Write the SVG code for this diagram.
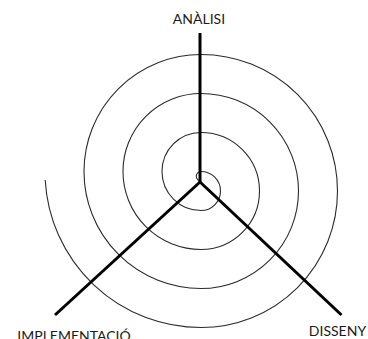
<svg xmlns="http://www.w3.org/2000/svg" width="368" height="339" viewBox="0 0 368 339">
<style>
.lbl{font-family:Lato,"Open Sans","Liberation Sans",sans-serif;font-size:14px;fill:#1a1a1a}
.spiral{fill:none;stroke:#2a2a2a;stroke-width:1.1}
.axis{stroke:#000;stroke-width:3;stroke-linecap:butt;fill:none}
</style>
<rect width="368" height="339" fill="#fff"/>
<g id="spiral">
<path class="spiral" d="M201,181 A4.75,4.75 0 0 1 201,171.5 A19.5,19.5 0 0 1 201,210.5 A39,39 0 0 1 201,132.5 A58.5,58.5 0 0 1 201,249.5 A78,78 0 0 1 201,93.5 A97.5,97.5 0 0 1 201,288.5 A117,117 0 0 1 201,54.5 A136.5,136.5 0 0 1 201,327.5 A156,156 0 0 1 45.2,180"/>
</g>
<g id="connectors">
<path class="axis" d="M200,33 L200,182"/>
<path class="axis" d="M200,182 L55,315"/>
<path class="axis" d="M200,182 L341.5,315"/>
</g>
<g id="analisi"><text class="lbl" x="199" y="24" text-anchor="middle">ANÀLISI</text></g>
<g id="disseny"><text class="lbl" x="337.5" y="336" text-anchor="middle">DISSENY</text></g>
<g id="implementacio"><text class="lbl" x="74" y="341" text-anchor="middle">IMPLEMENTACIÓ</text></g>
</svg>
